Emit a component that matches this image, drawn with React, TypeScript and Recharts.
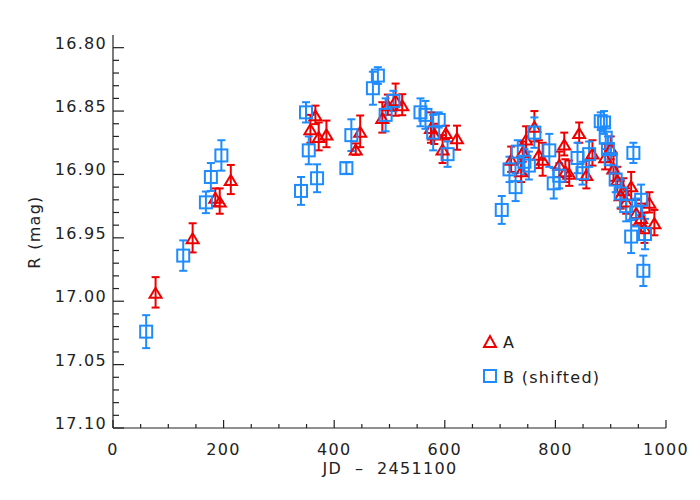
import React from 'react';
import { ScatterChart, Scatter, XAxis, YAxis, ErrorBar } from 'recharts';

// ---- Data ----
const aJD = [77, 144, 185, 193, 213, 357, 366, 372, 386, 439, 447, 487, 497, 511, 523, 575, 581, 596, 602, 622,
  720, 738, 741, 747, 762, 770, 777, 807, 816, 818, 825, 843, 856, 867, 890, 900, 905, 912, 918, 923, 928, 937, 946, 955, 961, 970, 979];
const aMag = [16.993, 16.950, 16.918, 16.921, 16.904, 16.864, 16.853, 16.870, 16.868, 16.880, 16.866, 16.855, 16.845, 16.841, 16.845, 16.863, 16.868, 16.880, 16.867, 16.871,
  16.888, 16.897, 16.882, 16.872, 16.862, 16.884, 16.888, 16.892, 16.876, 16.897, 16.899, 16.867, 16.900, 16.883, 16.886, 16.879, 16.895, 16.904, 16.916, 16.912, 16.921, 16.909, 16.930, 16.934, 16.942, 16.922, 16.938];
const aErr = [0.012, 0.0115, 0.007, 0.010, 0.0115, 0.011, 0.0073, 0.011, 0.0105, 0.0045, 0.0125, 0.012, 0.008, 0.0127, 0.0083, 0.012, 0.008, 0.011, 0.0055, 0.0095,
  0.010, 0.009, 0.008, 0.010, 0.012, 0.011, 0.013, 0.010, 0.009, 0.009, 0.010, 0.008, 0.011, 0.010, 0.010, 0.009, 0.010, 0.010, 0.011, 0.009, 0.010, 0.011, 0.010, 0.011, 0.012, 0.008, 0.010];

const bJD = [60, 127, 168, 177, 196, 340, 349, 354, 369, 422, 431, 470, 479, 493, 507, 556, 565, 579, 589, 605,
  703, 717, 728, 732, 744, 752, 762, 789, 797, 807, 840, 849, 861, 882, 888, 891, 895, 900, 909, 918, 928, 937, 941, 946, 955, 959, 962];
const bMag = [17.024, 16.964, 16.922, 16.902, 16.885, 16.913, 16.851, 16.881, 16.903, 16.895, 16.869, 16.832, 16.822, 16.853, 16.842, 16.851, 16.853, 16.867, 16.857, 16.884,
  16.928, 16.896, 16.910, 16.882, 16.890, 16.893, 16.867, 16.881, 16.907, 16.901, 16.887, 16.899, 16.884, 16.858, 16.859, 16.871, 16.880, 16.888, 16.904, 16.915, 16.925, 16.949, 16.883, 16.930, 16.920, 16.976, 16.947];
const bErr = [0.013, 0.012, 0.0085, 0.011, 0.012, 0.011, 0.008, 0.011, 0.011, 0.0045, 0.0125, 0.013, 0.0066, 0.013, 0.008, 0.011, 0.011, 0.014, 0.006, 0.010,
  0.011, 0.010, 0.011, 0.009, 0.010, 0.011, 0.012, 0.013, 0.012, 0.010, 0.012, 0.009, 0.010, 0.007, 0.009, 0.009, 0.010, 0.011, 0.010, 0.011, 0.012, 0.013, 0.008, 0.011, 0.012, 0.012, 0.012];

const xTicks = [0, 50, 100, 150, 200, 250, 300, 350, 400, 450, 500, 550, 600, 650, 700, 750, 800, 850, 900, 950, 1000];
const xMajor = [0, 200, 400, 600, 800, 1000];
const yTicks = [16.80, 16.81, 16.82, 16.83, 16.84, 16.85, 16.86, 16.87, 16.88, 16.89, 16.90, 16.91, 16.92, 16.93, 16.94, 16.95,
  16.96, 16.97, 16.98, 16.99, 17.00, 17.01, 17.02, 17.03, 17.04, 17.05, 17.06, 17.07, 17.08, 17.09, 17.10];
const yMajor = [16.80, 16.85, 16.90, 16.95, 17.00, 17.05, 17.10];

const seriesA = aJD.map((x, i) => ({ x, y: aMag[i], err: aErr[i] }));
const seriesB = bJD.map((x, i) => ({ x, y: bMag[i], err: bErr[i] }));

const RED = '#ee0000';
const BLUE = '#1e8cff';
const AXIS = '#222222';
const FONT = '"DejaVu Sans", Verdana, sans-serif';
const FS = 16;
const LS = 1.3;

const isXMajor = (v: number) => xMajor.includes(v);
const isYMajor = (v: number) => yMajor.some((m) => Math.abs(m - v) < 1e-6);

const XTickBottom = (props: any) => {
  const { x, y, payload } = props;
  const major = isXMajor(payload.value);
  return (
    <g>
      <line x1={x} x2={x} y1={y} y2={y - (major ? 8 : 4)} stroke={AXIS} strokeWidth={1.2} />
      {major && (
        <text x={x} y={y + 27} textAnchor="middle" fontFamily={FONT} fontSize={FS} letterSpacing={LS} fill={AXIS}>
          {payload.value}
        </text>
      )}
    </g>
  );
};
const XTickTop = (props: any) => {
  const { x, y, payload } = props;
  const major = isXMajor(payload.value);
  return <line x1={x} x2={x} y1={y} y2={y + (major ? 8 : 4)} stroke={AXIS} strokeWidth={1.2} />;
};
const YTickLeft = (props: any) => {
  const { x, y, payload } = props;
  const major = isYMajor(payload.value);
  return (
    <g>
      <line x1={x} x2={x + (major ? 11 : 6)} y1={y} y2={y} stroke={AXIS} strokeWidth={1.2} />
      {major && (
        <text x={x - 6} y={y + 1} textAnchor="end" fontFamily={FONT} fontSize={FS} letterSpacing={LS} fill={AXIS}>
          {Number(payload.value).toFixed(2)}
        </text>
      )}
    </g>
  );
};
const YTickRight = (props: any) => {
  const { x, y, payload } = props;
  const major = isYMajor(payload.value);
  return <line x1={x} x2={x - (major ? 11 : 6)} y1={y} y2={y} stroke={AXIS} strokeWidth={1.2} />;
};

const Tri = (props: any) => {
  const { cx, cy } = props;
  if (cx == null || cy == null) return null;
  const pts = `${cx},${cy - 4.5} ${cx - 6},${cy + 5.5} ${cx + 6},${cy + 5.5}`;
  return <polygon points={pts} fill="none" stroke={RED} strokeWidth={2} />;
};
const Sq = (props: any) => {
  const { cx, cy } = props;
  if (cx == null || cy == null) return null;
  return <rect x={cx - 6} y={cy - 6} width={12} height={12} fill="none" stroke={BLUE} strokeWidth={2} />;
};

export default function App() {
  return (
    <div style={{ position: 'absolute', left: 0, top: 0, width: 700, height: 500, background: '#fff' }}>
      <ScatterChart width={700} height={500} margin={{ top: 35, right: 34, bottom: 32, left: 43 }}>
        <XAxis
          xAxisId="b"
          type="number"
          dataKey="x"
          domain={[0, 1000]}
          ticks={xTicks}
          interval={0}
          allowDataOverflow
          height={40}
          tickSize={0}
          tickMargin={0}
          tick={<XTickBottom />}
          axisLine={{ stroke: AXIS, strokeWidth: 1.2 }}
          tickLine={false}
        />
        <XAxis
          xAxisId="t"
          orientation="top"
          type="number"
          dataKey="x"
          domain={[0, 1000]}
          ticks={xTicks}
          interval={0}
          allowDataOverflow
          height={0}
          tickSize={0}
          tickMargin={0}
          tick={<XTickTop />}
          axisLine={{ stroke: AXIS, strokeWidth: 1.2 }}
          tickLine={false}
        />
        <YAxis
          yAxisId="l"
          type="number"
          dataKey="y"
          domain={[16.79, 17.1]}
          reversed
          ticks={yTicks}
          interval={0}
          allowDataOverflow
          width={70}
          tickSize={0}
          tickMargin={0}
          tick={<YTickLeft />}
          axisLine={{ stroke: AXIS, strokeWidth: 1.2 }}
          tickLine={false}
        />
        <YAxis
          yAxisId="r"
          orientation="right"
          type="number"
          dataKey="y"
          domain={[16.79, 17.1]}
          reversed
          ticks={yTicks}
          interval={0}
          allowDataOverflow
          width={0}
          tickSize={0}
          tickMargin={0}
          tick={<YTickRight />}
          axisLine={{ stroke: AXIS, strokeWidth: 1.2 }}
          tickLine={false}
        />
        <Scatter data={seriesA} xAxisId="b" yAxisId="l" shape={<Tri />} isAnimationActive={false}>
          <ErrorBar dataKey="err" direction="y" width={4} stroke={RED} strokeWidth={2} isAnimationActive={false} />
        </Scatter>
        <Scatter data={seriesB} xAxisId="b" yAxisId="l" shape={<Sq />} isAnimationActive={false}>
          <ErrorBar dataKey="err" direction="y" width={4} stroke={BLUE} strokeWidth={2} isAnimationActive={false} />
        </Scatter>
      </ScatterChart>
      <svg width={700} height={500} style={{ position: 'absolute', left: 0, top: 0, pointerEvents: 'none' }}>
        <text x={390} y={474} textAnchor="middle" fontFamily={FONT} fontSize={FS} letterSpacing={LS} fill={AXIS} style={{ whiteSpace: 'pre' }}>{'JD  –  2451100'}</text>
        <text x={40} y={232} textAnchor="middle" fontFamily={FONT} fontSize={FS} letterSpacing={LS} fill={AXIS} transform="rotate(-90 40 232)">R (mag)</text>
        <polygon points="484,347 490,336 496,347" fill="none" stroke={RED} strokeWidth={2} />
        <text x={503} y={348} fontFamily={FONT} fontSize={FS} letterSpacing={LS} fill={AXIS}>A</text>
        <rect x={484} y={370} width={12} height={12} fill="none" stroke={BLUE} strokeWidth={2} />
        <text x={503} y={383} fontFamily={FONT} fontSize={FS} letterSpacing={LS} fill={AXIS}>B (shifted)</text>
      </svg>
    </div>
  );
}
